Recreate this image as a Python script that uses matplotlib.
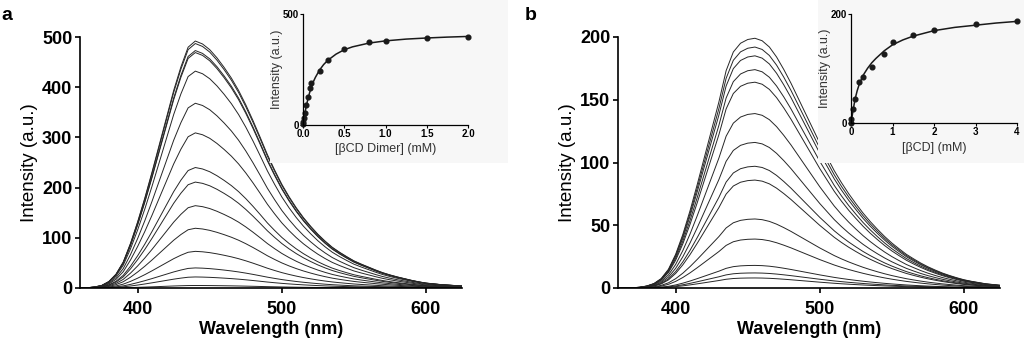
import numpy as np
import matplotlib
matplotlib.use("Agg")
import matplotlib.pyplot as plt

plt.rcParams['font.family'] = ['Liberation Sans', 'DejaVu Sans']

# emission wavelength grid (nm), 360..625
wavelength = np.arange(360, 630, 5)

# normalised emission profile, βCD dimer titration
profile_a = [0.000, 0.001, 0.004, 0.010, 0.026, 0.056, 0.105, 0.180, 0.268, 0.365,
             0.470, 0.580, 0.690, 0.800, 0.895, 0.975, 1.000, 0.988, 0.965, 0.932,
             0.893, 0.850, 0.800, 0.742, 0.678, 0.610, 0.540, 0.478, 0.420, 0.370,
             0.325, 0.285, 0.250, 0.218, 0.190, 0.165, 0.145, 0.127, 0.110, 0.097,
             0.085, 0.073, 0.062, 0.053, 0.045, 0.038, 0.031, 0.025, 0.020, 0.017,
             0.014, 0.012, 0.010, 0.008]
# peak intensity of each spectrum (a.u.)
peaks_a = [492, 487, 473, 469, 432, 368, 309, 240, 211, 164, 119, 73, 40, 22, 5]

# normalised emission profile, βCD titration
profile_b = [0.000, 0.000, 0.001, 0.003, 0.008, 0.018, 0.038, 0.075, 0.135, 0.215,
             0.310, 0.415, 0.525, 0.635, 0.745, 0.870, 0.945, 0.980, 0.995, 1.000,
             0.990, 0.965, 0.925, 0.875, 0.820, 0.760, 0.700, 0.640, 0.580, 0.525,
             0.470, 0.422, 0.378, 0.338, 0.300, 0.266, 0.235, 0.206, 0.180, 0.157,
             0.135, 0.117, 0.100, 0.085, 0.072, 0.060, 0.050, 0.041, 0.033, 0.027,
             0.022, 0.017, 0.014, 0.011]
peaks_b = [199, 192, 185, 174, 164, 139, 116, 97, 86, 55, 39, 18, 12, 8]

# binding isotherms (inset)
conc_a = [0, 0.005, 0.01, 0.02, 0.04, 0.06, 0.08, 0.1, 0.2, 0.3, 0.5, 0.8, 1.0, 1.5, 2.0]
inten_a = [5, 15, 30, 55, 90, 127, 166, 191, 245, 292, 345, 375, 381, 393, 396]
fit_x_a = [0, 0.01, 0.02, 0.04, 0.06, 0.08, 0.1, 0.125, 0.15, 0.2, 0.25, 0.3, 0.4,
           0.5, 0.6, 0.8, 1.0, 1.25, 1.5, 1.75, 2.0]
fit_y_a = [0, 25, 48, 86, 118, 146, 170, 195, 215, 248, 273, 292, 320, 340, 353,
           370, 380, 388, 393, 397, 400]

conc_b = [0, 0.01, 0.05, 0.1, 0.2, 0.3, 0.5, 0.8, 1.0, 1.5, 2.0, 3.0, 4.0]
inten_b = [1, 8, 27, 45, 75, 85, 104, 127, 150, 162, 172, 182, 188]
fit_x_b = [0, 0.05, 0.1, 0.15, 0.2, 0.3, 0.4, 0.5, 0.6, 0.8, 1.0, 1.25, 1.5, 2.0,
           2.5, 3.0, 3.5, 4.0]
fit_y_b = [0, 24, 45, 60, 72, 89, 101, 111, 119, 133, 144, 153, 160, 170, 176,
           180, 184, 187]

W, H = 1024, 342
fig = plt.figure(figsize=(W / 100, H / 100), dpi=100)


def px(x0, y0, x1, y1):
    # pixel box (top-left origin) -> figure fraction rect
    return [x0 / W, 1 - y1 / H, (x1 - x0) / W, (y1 - y0) / H]


def style_main(ax, ymax, ystep):
    for s in ('top', 'right'):
        ax.spines[s].set_visible(False)
    for s in ('left', 'bottom'):
        ax.spines[s].set_linewidth(1.2)
    ax.set_xlim(360, 625)
    ax.set_ylim(0, ymax)
    ax.set_xticks([400, 500, 600])
    ax.set_yticks(np.arange(0, ymax + 1, ystep))
    ax.tick_params(direction='out', length=3.5, width=1.2, labelsize=13)
    ax.tick_params(axis='x', pad=6)
    ax.tick_params(axis='y', pad=2)
    for lab in ax.get_xticklabels() + ax.get_yticklabels():
        lab.set_fontweight('bold')
    ax.set_xlabel('Wavelength (nm)', fontsize=13, fontweight='bold', labelpad=2)
    ax.set_ylabel('Intensity (a.u.)', fontsize=13.5, labelpad=3)


def style_inset(ax, xmax, xticks, xfmt, ymax, xlabel):
    ax.set_facecolor('none')
    for s in ('top', 'right'):
        ax.spines[s].set_visible(False)
    for s in ('left', 'bottom'):
        ax.spines[s].set_linewidth(0.9)
    ax.set_xlim(0, xmax)
    ax.set_ylim(0, ymax)
    ax.set_xticks(xticks)
    ax.set_xticklabels([xfmt.format(t) for t in xticks])
    ax.set_yticks([0, ymax])
    ax.tick_params(direction='out', length=2, width=0.8, labelsize=7, pad=1)
    for lab in ax.get_xticklabels() + ax.get_yticklabels():
        lab.set_fontweight('bold')
    ax.set_xlabel(xlabel, fontsize=9, color='#333333', labelpad=3)
    ax.set_ylabel('Intensity (a.u.)', fontsize=9, color='#333333', labelpad=0)


def add_backdrop(box):
    bg = fig.add_axes(px(*box))
    bg.set_facecolor('#f7f7f7')
    bg.set_xticks([])
    bg.set_yticks([])
    for s in bg.spines.values():
        s.set_visible(False)


line_kw = dict(color='#262626', lw=0.7)

# panel a
ax_a = fig.add_axes(px(80, 37, 462, 288))
for p in peaks_a:
    ax_a.plot(wavelength, np.array(profile_a) * p, **line_kw)
style_main(ax_a, 500, 100)

add_backdrop((270, 0, 508, 163))
in_a = fig.add_axes(px(303, 14.3, 468, 125))
in_a.plot(fit_x_a, fit_y_a, color='#1a1a1a', lw=1.1, clip_on=False)
in_a.plot(conc_a, inten_a, 'o', color='#1a1a1a', ms=3.4, clip_on=False)
style_inset(in_a, 2.0, [0, 0.5, 1.0, 1.5, 2.0], '{:.1f}', 500, '[βCD Dimer] (mM)')

# panel b
ax_b = fig.add_axes(px(618, 37, 1000, 288))
for p in peaks_b:
    ax_b.plot(wavelength, np.array(profile_b) * p, **line_kw)
style_main(ax_b, 200, 50)

add_backdrop((818, 0, 1024, 163))
in_b = fig.add_axes(px(851, 14.3, 1017, 123.3))
in_b.plot(fit_x_b, fit_y_b, color='#1a1a1a', lw=1.1, clip_on=False)
in_b.plot(conc_b, inten_b, 'o', color='#1a1a1a', ms=3.4, clip_on=False)
style_inset(in_b, 4, [0, 1, 2, 3, 4], '{:d}', 200, '[βCD] (mM)')

fig.text(1 / W, 1 - 15 / H, 'a', fontsize=14, fontweight='bold', va='center')
fig.text(525 / W, 1 - 15 / H, 'b', fontsize=14, fontweight='bold', va='center')

fig.savefig('out.png', dpi=100)
